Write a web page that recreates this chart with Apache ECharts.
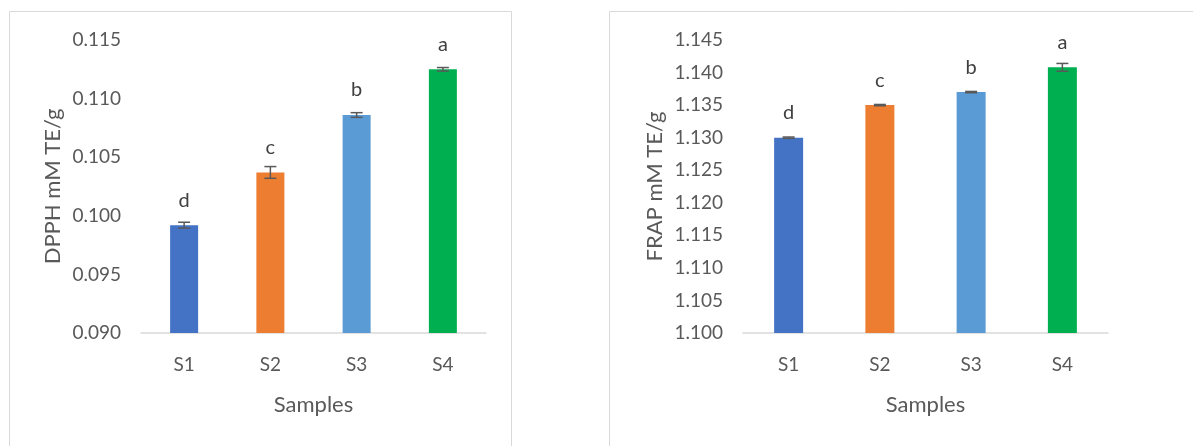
<!DOCTYPE html>
<html>
<head>
<meta charset="utf-8">
<script src="https://cdn.jsdelivr.net/npm/echarts@6/dist/echarts.min.js"></script>
<style>
html, body { margin: 0; padding: 0; background: #fff; }
#main { width: 1193px; height: 446px; }
</style>
</head>
<body>
<div id="main"></div>
<script>
var samples = ['S1', 'S2', 'S3', 'S4'];
var barColors = ['#4472C4', '#ED7D31', '#5B9BD5', '#00B050'];
var letters = ['d', 'c', 'b', 'a'];

var dpphMean = [0.0992, 0.1037, 0.1086, 0.1125];
var dpphErr = [0.00025, 0.0005, 0.0002, 0.00015];
var dpphTicks = { min: 0.090, max: 0.115, interval: 0.005 };

var frapMean = [1.1300, 1.1350, 1.1370, 1.1408];
var frapErr = [0.0001, 0.0001, 0.0001, 0.0006];
var frapTicks = { min: 1.100, max: 1.145, interval: 0.005 };

var textColor = '#595959';
var fontName = 'Lato, "Open Sans", sans-serif';

var chart = echarts.init(document.getElementById('main'));

function barData(means) {
    return means.map(function (v, i) {
        return { value: v, itemStyle: { color: barColors[i] } };
    });
}

function errData(means, errs) {
    return means.map(function (v, i) {
        return [i, v - errs[i], v + errs[i]];
    });
}

function renderErr(params, api) {
    var lo = api.coord([api.value(0), api.value(1)]);
    var hi = api.coord([api.value(0), api.value(2)]);
    var cap = 6;
    var style = { stroke: '#595959', lineWidth: 1.5 };
    return {
        type: 'group',
        children: [
            { type: 'line', shape: { x1: lo[0], y1: lo[1], x2: hi[0], y2: hi[1] }, style: style },
            { type: 'line', shape: { x1: lo[0] - cap, y1: lo[1], x2: lo[0] + cap, y2: lo[1] }, style: style },
            { type: 'line', shape: { x1: hi[0] - cap, y1: hi[1], x2: hi[0] + cap, y2: hi[1] }, style: style }
        ]
    };
}

function xAxisFor(gi) {
    return {
        type: 'category',
        gridIndex: gi,
        data: samples,
        name: 'Samples',
        nameLocation: 'middle',
        nameGap: 61,
        nameTextStyle: { color: textColor, fontSize: 22, fontFamily: fontName },
        axisLine: { lineStyle: { color: '#d9d9d9', width: 1.5 } },
        axisTick: { show: false },
        axisLabel: { color: textColor, fontSize: 19, fontFamily: fontName, margin: 22 }
    };
}

function yAxisFor(gi, ticks, title) {
    return {
        type: 'value',
        gridIndex: gi,
        min: ticks.min,
        max: ticks.max,
        interval: ticks.interval,
        name: title,
        nameLocation: 'middle',
        nameGap: 77,
        nameTextStyle: { color: textColor, fontSize: 22, fontFamily: fontName },
        axisLine: { show: false },
        axisTick: { show: false },
        splitLine: { show: false },
        axisLabel: {
            color: textColor, fontSize: 19, fontFamily: fontName, margin: 20,
            formatter: function (v) { return v.toFixed(3); }
        }
    };
}

var option = {
    backgroundColor: '#fff',
    animation: false,
    graphic: [
        { type: 'rect', shape: { x: 9.5, y: 11.5, width: 502, height: 450 }, style: { fill: 'none', stroke: '#d9d9d9', lineWidth: 1 } },
        { type: 'rect', shape: { x: 609.5, y: 11.5, width: 600, height: 450 }, style: { fill: 'none', stroke: '#d9d9d9', lineWidth: 1 } }
    ],
    grid: [
        { left: 141, top: 40, width: 345, height: 293 },
        { left: 743, top: 40, width: 365, height: 293 }
    ],
    xAxis: [xAxisFor(0), xAxisFor(1)],
    yAxis: [yAxisFor(0, dpphTicks, 'DPPH mM TE/g'), yAxisFor(1, frapTicks, 'FRAP mM TE/g')],
    series: [
        {
            type: 'bar', xAxisIndex: 0, yAxisIndex: 0,
            barWidth: 28,
            data: barData(dpphMean),
            label: {
                show: true, position: 'top', distance: 15,
                color: '#404040', fontSize: 20, fontFamily: fontName,
                formatter: function (p) { return letters[p.dataIndex]; }
            }
        },
        {
            type: 'custom', xAxisIndex: 0, yAxisIndex: 0,
            renderItem: renderErr,
            data: errData(dpphMean, dpphErr),
            z: 5
        },
        {
            type: 'bar', xAxisIndex: 1, yAxisIndex: 1,
            barWidth: 29,
            data: barData(frapMean),
            label: {
                show: true, position: 'top', distance: 15,
                color: '#404040', fontSize: 20, fontFamily: fontName,
                formatter: function (p) { return letters[p.dataIndex]; }
            }
        },
        {
            type: 'custom', xAxisIndex: 1, yAxisIndex: 1,
            renderItem: renderErr,
            data: errData(frapMean, frapErr),
            z: 5
        }
    ]
};

chart.setOption(option);
</script>
</body>
</html>
